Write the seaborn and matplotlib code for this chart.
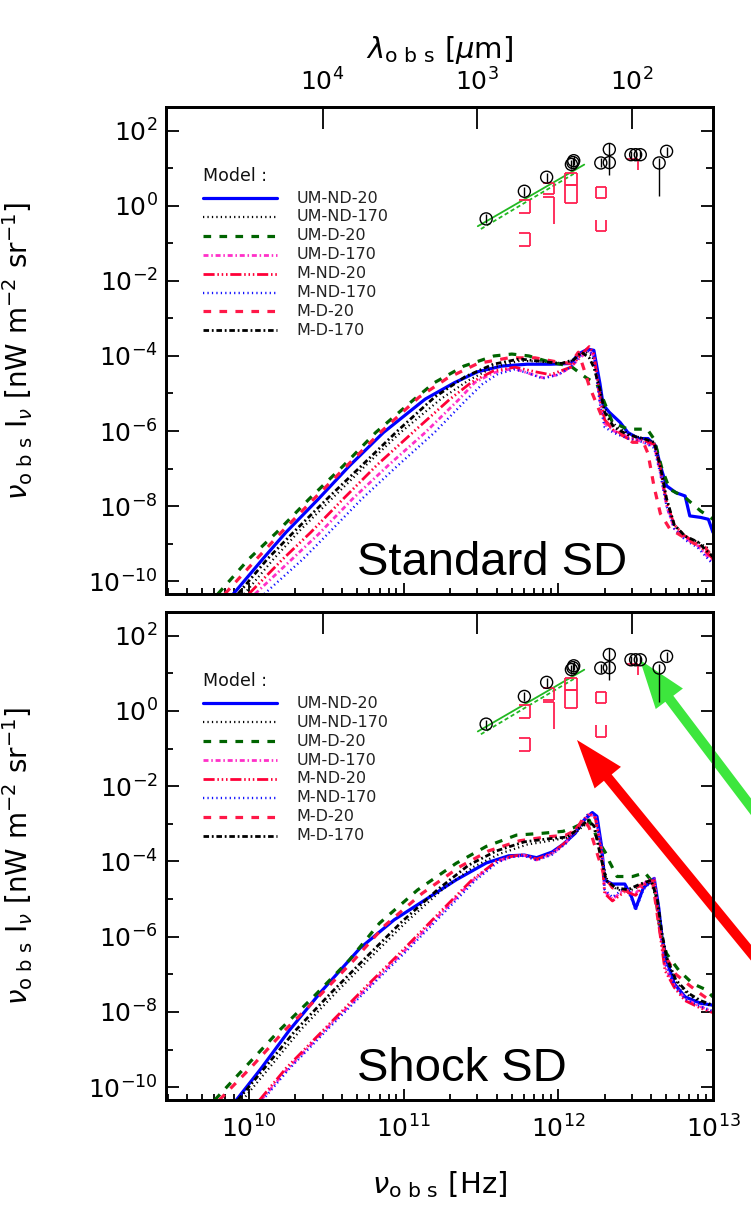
import numpy as np
import pandas as pd
import seaborn as sns
import matplotlib.pyplot as plt
from matplotlib.ticker import FixedLocator, LogLocator, LogFormatterMathtext, NullFormatter, NullLocator

# values as (log10 nu [Hz], log10 nu*I_nu [nW m^-2 sr^-1])
# ---- Standard SD (top panel)
std_um_nd_20 = [(9.90, -10.34), (10.09, -9.41), (10.24, -8.70), (10.45, -7.81), (10.65, -6.93), (10.87, -6.04),
                (11.14, -5.15), (11.33, -4.71), (11.48, -4.42), (11.635, -4.27), (11.8, -4.22), (11.95, -4.22),
                (12.08, -4.2), (12.13, -3.95), (12.19, -3.82), (12.23, -3.85), (12.27, -4.75), (12.29, -5.3),
                (12.33, -5.5), (12.40, -5.77), (12.45, -6.04), (12.52, -6.2), (12.58, -6.2), (12.63, -6.4),
                (12.66, -6.93), (12.70, -7.46), (12.76, -7.64), (12.82, -7.73), (12.85, -8.26), (12.92, -8.30),
                (12.97, -8.35), (13.0, -8.70)]
std_um_nd_170 = [(9.97, -10.34), (10.16, -9.41), (10.33, -8.65), (10.55, -7.75), (10.76, -6.9), (10.98, -6.04),
                 (11.24, -5.15), (11.42, -4.65), (11.58, -4.3), (11.75, -4.13), (11.9, -4.15), (12.05, -4.2),
                 (12.12, -4.05), (12.18, -3.9), (12.22, -4.0), (12.25, -4.5), (12.28, -5.1), (12.32, -5.6),
                 (12.38, -5.9), (12.47, -6.1), (12.55, -6.2), (12.62, -6.3), (12.66, -6.95), (12.70, -7.8),
                 (12.75, -8.5), (12.82, -8.8), (12.9, -8.95), (12.96, -9.1), (13.0, -9.4)]
std_um_d_20 = [(9.80, -10.34), (10.0, -9.41), (10.18, -8.70), (10.39, -7.81), (10.61, -6.93), (10.82, -6.04),
               (11.07, -5.15), (11.20, -4.71), (11.39, -4.27), (11.585, -4.0), (11.70, -3.95), (11.81, -4.0),
               (11.96, -4.18), (12.08, -4.27), (12.18, -4.58), (12.25, -4.75), (12.29, -5.15), (12.35, -5.77),
               (12.45, -5.95), (12.575, -5.95), (12.62, -6.22), (12.67, -7.0), (12.72, -7.55), (12.82, -7.77),
               (12.92, -8.13), (13.0, -8.35)]
std_um_d_170 = [(10.04, -10.34), (10.28, -9.41), (10.45, -8.75), (10.67, -7.81), (10.9, -6.92), (11.14, -6.04),
                (11.36, -5.15), (11.46, -4.71), (11.58, -4.45), (11.71, -4.33), (11.8, -4.45), (11.9, -4.58),
                (12.0, -4.5), (12.08, -4.3), (12.14, -4.05), (12.2, -3.85), (12.23, -4.0), (12.27, -5.2),
                (12.30, -5.8), (12.36, -6.0), (12.45, -6.15), (12.55, -6.3), (12.62, -6.4), (12.66, -7.1),
                (12.70, -8.0), (12.75, -8.6), (12.82, -8.85), (12.9, -9.05), (13.0, -9.5)]
std_m_nd_20 = [(10.0, -10.34), (10.22, -9.41), (10.40, -8.7), (10.61, -7.81), (10.83, -6.9), (11.07, -6.0),
               (11.3, -5.15), (11.44, -4.7), (11.58, -4.4), (11.72, -4.3), (11.85, -4.42), (11.95, -4.5),
               (12.08, -4.3), (12.14, -4.0), (12.2, -3.75), (12.23, -3.95), (12.27, -5.1), (12.30, -5.7),
               (12.36, -6.0), (12.45, -6.2), (12.55, -6.25), (12.62, -6.35), (12.66, -7.0), (12.70, -7.9),
               (12.75, -8.5), (12.82, -8.8), (12.9, -9.0), (13.0, -9.4)]
std_m_nd_170 = [(10.10, -10.34), (10.35, -9.41), (10.52, -8.7), (10.73, -7.81), (10.96, -6.93), (11.2, -6.04),
                (11.41, -5.15), (11.51, -4.75), (11.61, -4.48), (11.72, -4.36), (11.8, -4.45), (11.9, -4.6),
                (12.0, -4.5), (12.08, -4.3), (12.14, -4.0), (12.2, -3.85), (12.23, -4.05), (12.27, -5.3),
                (12.30, -5.9), (12.36, -6.05), (12.45, -6.2), (12.55, -6.3), (12.62, -6.45), (12.66, -7.15),
                (12.70, -8.0), (12.75, -8.6), (12.82, -8.9), (12.9, -9.1), (13.0, -9.55)]
std_m_d_20 = [(9.845, -10.34), (10.05, -9.41), (10.21, -8.70), (10.42, -7.81), (10.64, -6.9), (10.86, -6.0),
              (11.1, -5.1), (11.28, -4.6), (11.48, -4.2), (11.68, -4.05), (11.85, -4.05), (11.98, -4.15),
              (12.08, -4.2), (12.13, -3.9), (12.17, -4.4), (12.2, -4.8), (12.24, -5.2), (12.28, -5.6),
              (12.33, -5.85), (12.4, -6.05), (12.48, -6.3), (12.55, -6.3), (12.58, -6.6), (12.62, -7.5),
              (12.66, -8.2), (12.72, -8.6), (12.8, -8.8), (12.88, -9.0), (12.95, -9.1), (13.0, -9.4)]
std_m_d_170 = [(9.93, -10.34), (10.12, -9.41), (10.3, -8.65), (10.52, -7.75), (10.74, -6.88), (10.96, -6.0),
               (11.2, -5.1), (11.4, -4.55), (11.58, -4.22), (11.75, -4.08), (11.9, -4.15), (12.02, -4.2),
               (12.1, -4.1), (12.15, -3.9), (12.2, -4.05), (12.23, -4.3), (12.27, -4.9), (12.30, -5.5),
               (12.36, -5.9), (12.45, -6.1), (12.55, -6.2), (12.62, -6.3), (12.66, -6.95), (12.70, -7.8),
               (12.75, -8.5), (12.82, -8.8), (12.9, -8.95), (13.0, -9.35)]

# ---- Shock SD (bottom panel)
shk_um_nd_20 = [(9.92, -10.34), (10.08, -9.5), (10.26, -8.5), (10.47, -7.45), (10.72, -6.3), (10.94, -5.55),
                (11.14, -5.02), (11.34, -4.49), (11.535, -4.04), (11.68, -3.85), (11.78, -3.83), (11.86, -3.9),
                (11.96, -3.75), (12.03, -3.55), (12.11, -3.25), (12.16, -2.93), (12.22, -2.7), (12.25, -2.8),
                (12.28, -3.6), (12.30, -4.5), (12.35, -4.6), (12.43, -4.6), (12.47, -4.9), (12.50, -5.25),
                (12.55, -4.7), (12.62, -4.45), (12.65, -5.25), (12.67, -6.0), (12.70, -6.62), (12.75, -7.25),
                (12.82, -7.6), (12.92, -7.77), (13.0, -7.82)]
shk_um_nd_170 = [(9.96, -10.34), (10.12, -9.55), (10.33, -8.5), (10.56, -7.5), (10.80, -6.5), (11.02, -5.6),
                 (11.25, -4.75), (11.45, -4.15), (11.62, -3.8), (11.8, -3.55), (11.95, -3.45), (12.08, -3.35),
                 (12.15, -3.1), (12.2, -2.95), (12.24, -3.1), (12.28, -3.9), (12.32, -4.55), (12.38, -4.75),
                 (12.45, -4.8), (12.53, -4.65), (12.6, -4.55), (12.64, -5.1), (12.67, -6.0), (12.70, -6.6),
                 (12.76, -7.2), (12.84, -7.55), (12.92, -7.75), (13.0, -7.85)]
shk_um_d_20 = [(9.78, -10.34), (9.99, -9.41), (10.20, -8.48), (10.42, -7.59), (10.65, -6.62), (10.845, -5.64),
               (11.09, -4.76), (11.34, -4.05), (11.535, -3.6), (11.73, -3.3), (11.9, -3.25), (12.03, -3.2),
               (12.1, -3.1), (12.2, -2.9), (12.265, -3.5), (12.31, -3.8), (12.33, -4.0), (12.38, -4.4),
               (12.48, -4.4), (12.56, -4.3), (12.62, -4.6), (12.66, -5.9), (12.70, -6.45), (12.78, -6.9),
               (12.87, -7.25), (12.95, -7.4), (13.0, -7.6)]
shk_um_d_170 = [(10.08, -10.34), (10.25, -9.52), (10.5, -8.45), (10.75, -7.42), (11.0, -6.4), (11.25, -5.35),
                (11.45, -4.5), (11.6, -4.0), (11.7, -3.87), (11.78, -3.84), (11.86, -3.96), (11.96, -3.8),
                (12.05, -3.5), (12.13, -3.1), (12.2, -2.75), (12.24, -2.8), (12.28, -3.7), (12.30, -4.8),
                (12.35, -5.0), (12.43, -4.75), (12.5, -4.85), (12.575, -4.5), (12.62, -4.45), (12.65, -5.6),
                (12.69, -6.8), (12.75, -7.3), (12.82, -7.65), (12.92, -7.86), (13.0, -8.0)]
shk_m_nd_20 = [(10.07, -10.34), (10.24, -9.5), (10.49, -8.45), (10.74, -7.4), (10.99, -6.38), (11.24, -5.33),
               (11.44, -4.5), (11.6, -4.0), (11.7, -3.86), (11.78, -3.82), (11.86, -3.94), (11.96, -3.78),
               (12.05, -3.48), (12.13, -3.05), (12.2, -2.72), (12.24, -2.85), (12.28, -3.8), (12.30, -4.85),
               (12.35, -5.05), (12.43, -4.8), (12.5, -4.9), (12.575, -4.55), (12.62, -4.5), (12.65, -5.7),
               (12.69, -6.9), (12.75, -7.35), (12.82, -7.7), (12.92, -7.9), (13.0, -8.02)]
shk_m_nd_170 = [(10.09, -10.34), (10.26, -9.52), (10.51, -8.46), (10.76, -7.43), (11.01, -6.42), (11.26, -5.37),
                (11.46, -4.52), (11.61, -4.02), (11.7, -3.88), (11.78, -3.85), (11.86, -3.97), (11.96, -3.82),
                (12.05, -3.52), (12.13, -3.1), (12.2, -2.7), (12.24, -2.8), (12.28, -3.7), (12.30, -4.75),
                (12.35, -4.95), (12.43, -4.7), (12.47, -4.95), (12.5, -5.3), (12.55, -4.75), (12.62, -4.45),
                (12.65, -5.5), (12.69, -6.7), (12.75, -7.3), (12.82, -7.65), (12.92, -7.85), (13.0, -7.98)]
shk_m_d_20 = [(9.81, -10.34), (10.02, -9.45), (10.23, -8.5), (10.45, -7.6), (10.68, -6.62), (10.88, -5.7),
              (11.12, -4.85), (11.36, -4.15), (11.55, -3.72), (11.75, -3.45), (11.92, -3.35), (12.05, -3.3),
              (12.12, -3.15), (12.16, -2.85), (12.2, -3.1), (12.26, -3.9), (12.3, -4.4), (12.35, -4.7),
              (12.45, -4.8), (12.55, -4.6), (12.61, -4.55), (12.65, -5.7), (12.69, -6.5), (12.76, -7.0),
              (12.85, -7.3), (12.93, -7.55), (13.0, -7.75)]
shk_m_d_170 = [(9.93, -10.34), (10.09, -9.55), (10.3, -8.5), (10.53, -7.5), (10.77, -6.5), (10.99, -5.6),
               (11.22, -4.75), (11.42, -4.1), (11.6, -3.72), (11.78, -3.48), (11.93, -3.4), (12.06, -3.35),
               (12.14, -3.1), (12.19, -2.9), (12.23, -3.05), (12.27, -3.8), (12.31, -4.5), (12.37, -4.7),
               (12.45, -4.75), (12.53, -4.6), (12.6, -4.5), (12.64, -5.0), (12.67, -5.9), (12.70, -6.55),
               (12.76, -7.15), (12.84, -7.5), (12.92, -7.7), (13.0, -7.82)]

models = ['UM-ND-20', 'UM-ND-170', 'UM-D-20', 'UM-D-170', 'M-ND-20', 'M-ND-170', 'M-D-20', 'M-D-170']
std_curves = [std_um_nd_20, std_um_nd_170, std_um_d_20, std_um_d_170,
              std_m_nd_20, std_m_nd_170, std_m_d_20, std_m_d_170]
shk_curves = [shk_um_nd_20, shk_um_nd_170, shk_um_d_20, shk_um_d_170,
              shk_m_nd_20, shk_m_nd_170, shk_m_d_20, shk_m_d_170]

# observed background (circles with error bars), log10 values
obs_lognu = [11.534, 11.781, 11.925, 12.085, 12.10, 12.095, 12.275, 12.33, 12.33, 12.47, 12.50, 12.53, 12.652, 12.70]
obs_logI = [-0.35, 0.386, 0.76, 1.10, 1.2, 1.15, 1.14, 1.5, 1.15, 1.36, 1.36, 1.36, 1.14, 1.45]
obs_lo = [-0.47, 0.27, 0.64, 0.98, 1.08, 1.03, 1.02, 0.83, 1.03, 1.26, 1.26, 1.26, 0.25, 1.33]
obs_hi = [-0.23, 0.50, 0.88, 1.22, 1.32, 1.27, 1.26, 1.68, 1.27, 1.46, 1.46, 1.46, 1.26, 1.57]

# green fit lines
fit_lognu = [11.48, 12.168]
fit_logI = [-0.545, 1.096]
fit2_lognu = [11.50, 11.80, 12.10]
fit2_logI = [-0.62, 0.12, 0.85]

# red limit boxes: nu range, I range, drawn sides (t=top, r=right, b=bottom, l=left)
box_nu_lo = [11.748, 11.748, 11.899, 11.899, 12.043, 12.043, 12.243, 12.243, 12.447]
box_nu_hi = [11.819, 11.819, 11.974, 11.974, 12.118, 12.118, 12.307, 12.307, 12.518]
box_I_lo = [-0.19, -1.06, 0.30, -0.49, 0.564, 0.077, 0.21, -0.68, 0.96]
box_I_hi = [0.146, -0.72, 0.61, 0.23, 0.875, 0.564, 0.50, -0.385, 1.25]
box_sides = ['trb', 'trb', 'trb', 'tr', 'ltrb', 'ltrb', 'ltrb', 'lbr', 'tr']

colors = ['#0000ff', '#000000', '#006400', '#ff30c8', '#ff0038', '#1010ff', '#ff1848', '#000000']
dashes = ['-', (0, (0.9, 2.3)), (0, (5.5, 6.0)), (0, (3.6, 2.0, 1.1, 2.0)),
          (0, (8.0, 2.0, 1.1, 2.0, 1.1, 2.0, 1.1, 2.0)), (0, (0.9, 2.3)), (0, (5.5, 6.0)),
          (0, (4.0, 2.0, 1.3, 2.0))]
widths = [2.3, 1.6, 2.3, 2.0, 2.0, 1.7, 2.3, 2.0]

C_UM = 2.998e14  # lambda[um] * nu[Hz]
XMIN, XMAX = 10 ** 9.465, 1e13
YMIN, YMAX = 10 ** -10.34, 10 ** 2.63

sns.set_style('ticks')
plt.rcParams['font.family'] = ['DejaVu Sans']
plt.rcParams['lines.scale_dashes'] = False
plt.rcParams['axes.linewidth'] = 2.0
for key in ('text.color', 'axes.labelcolor', 'xtick.color', 'ytick.color', 'axes.edgecolor'):
    plt.rcParams[key] = 'black'

rows = []
for panel, curves in (('std', std_curves), ('shk', shk_curves)):
    for m, pts in zip(models, curves):
        for lnu, lI in pts:
            rows.append({'panel': panel, 'model': m, 'nu': 10 ** lnu, 'I': 10 ** lI})
df = pd.DataFrame(rows)

fig = plt.figure(figsize=(7.51, 12.25), dpi=100)
ax1 = fig.add_axes([0.2210, 0.5151, 0.7284, 0.39755])
ax2 = fig.add_axes([0.2210, 0.10204, 0.7284, 0.39837])

for ax, panel, name in ((ax1, 'std', 'Standard SD'), (ax2, 'shk', 'Shock SD')):
    ax.set_xscale('log')
    ax.set_yscale('log')
    sub = df[df['panel'] == panel]
    for m, c, ls, lw in zip(models, colors, dashes, widths):
        sns.lineplot(data=sub[sub['model'] == m], x='nu', y='I', ax=ax, color=c, linestyle=ls, lw=lw,
                     estimator=None, sort=False, legend=False)

    # observations
    ax.plot(10 ** np.array(fit_lognu), 10 ** np.array(fit_logI), color='#22b822', lw=1.3)
    ax.plot(10 ** np.array(fit2_lognu), 10 ** np.array(fit2_logI), color='#22b822', lw=1.3,
            linestyle=(0, (3, 2)))
    for lo_nu, hi_nu, lo_I, hi_I, sides in zip(box_nu_lo, box_nu_hi, box_I_lo, box_I_hi, box_sides):
        x0, x1, y0, y1 = 10 ** lo_nu, 10 ** hi_nu, 10 ** lo_I, 10 ** hi_I
        seg = {'t': ([x0, x1], [y1, y1]), 'r': ([x1, x1], [y1, y0]),
               'b': ([x1, x0], [y0, y0]), 'l': ([x0, x0], [y0, y1])}
        for s in sides:
            ax.plot(*seg[s], color='#ff2050', lw=1.3, solid_capstyle='butt')
    ax.vlines(10 ** np.array(obs_lognu), 10 ** np.array(obs_lo), 10 ** np.array(obs_hi), color='k', lw=1.0,
              zorder=5)
    sns.scatterplot(x=10 ** np.array(obs_lognu), y=10 ** np.array(obs_logI), ax=ax, marker='o', s=75,
                    facecolor='none', edgecolor='black', linewidth=1.0, zorder=6)

    ax.set_xlim(XMIN, XMAX)
    ax.set_ylim(YMIN, YMAX)
    ax.yaxis.set_major_locator(FixedLocator(10.0 ** np.arange(-10, 3, 2)))
    ax.yaxis.set_minor_locator(FixedLocator(10.0 ** np.arange(-9, 3, 2)))
    ax.yaxis.set_major_formatter(LogFormatterMathtext())
    ax.yaxis.set_minor_formatter(NullFormatter())
    ax.xaxis.set_major_locator(LogLocator(base=10, numticks=10))
    ax.xaxis.set_minor_locator(LogLocator(base=10, subs=np.arange(2, 10), numticks=20))
    ax.xaxis.set_minor_formatter(NullFormatter())
    ax.tick_params(which='both', direction='in', top=False, right=True, width=1.3)
    ax.tick_params(axis='y', which='major', length=9, pad=6, labelsize=18)
    ax.tick_params(axis='y', which='minor', length=5)
    ax.tick_params(axis='x', which='major', length=8, pad=11, labelsize=18)
    ax.tick_params(axis='x', which='minor', length=4)
    ax.set_xlabel('')
    ax.set_ylabel(r'$\nu_{\mathrm{o\ b\ s}}\ \mathrm{I}_{\nu}\ [\mathrm{nW\ m^{-2}\ sr^{-1}}]$', fontsize=20)
    ax.yaxis.set_label_coords(-0.24, 0.5)

    # wavelength axis on top
    axt = ax.twiny()
    axt.set_xscale('log')
    axt.set_xlim(C_UM / XMIN, C_UM / XMAX)
    axt.xaxis.set_major_locator(FixedLocator([1e4, 1e3, 1e2]))
    axt.xaxis.set_minor_locator(NullLocator())
    axt.xaxis.set_major_formatter(LogFormatterMathtext())
    axt.tick_params(axis='x', which='major', direction='in', length=16, width=1.3, labelsize=18, pad=8)

    # panel label
    ax.text(0.349, 0.039, name, transform=ax.transAxes, fontsize=34, family='Liberation Sans',
            va='baseline', ha='left', zorder=7)

    # legend drawn by hand
    ax.text(0.068, 0.848, 'Model :', transform=ax.transAxes, fontsize=12.5, va='baseline', color='#111111')
    for i, (m, c, ls, lw) in enumerate(zip(models, colors, dashes, widths)):
        yy = 0.813 - i * 0.0388
        ax.plot([0.068, 0.203], [yy, yy], transform=ax.transAxes, color=c, linestyle=ls, lw=lw)
        ax.text(0.238, yy, m, transform=ax.transAxes, fontsize=11.5, va='center', color='#222222')

    if ax is ax2:
        axt.tick_params(labeltop=False)
    else:
        axt.set_xlabel(r'$\lambda_{\mathrm{o\ b\ s}}\ [\mu\mathrm{m}]$', fontsize=21, labelpad=8)

ax1.tick_params(axis='x', labelbottom=False)
ax2.set_xlabel(r'$\nu_{\mathrm{o\ b\ s}}\ [\mathrm{Hz}]$', fontsize=21)
ax2.xaxis.set_label_coords(0.5, -0.174)
ax2.xaxis.label.set_va('center')

# arrows pointing at the data
ax2.annotate('', xy=(577, 1225 - 740), xycoords='figure pixels', xytext=(820, 1225 - 1037),
             textcoords='figure pixels', annotation_clip=False,
             arrowprops=dict(arrowstyle='simple,head_length=3.5,head_width=2.45,tail_width=0.72',
                             mutation_scale=10, color='#ff0000', lw=0, shrinkA=0, shrinkB=0))
ax2.annotate('', xy=(640, 1225 - 660), xycoords='figure pixels', xytext=(820, 1225 - 898),
             textcoords='figure pixels', annotation_clip=False,
             arrowprops=dict(arrowstyle='simple,head_length=3.5,head_width=2.45,tail_width=0.72',
                             mutation_scale=10, color='#3de63d', lw=0, shrinkA=0, shrinkB=0))

fig.savefig('out.png', dpi=100)
